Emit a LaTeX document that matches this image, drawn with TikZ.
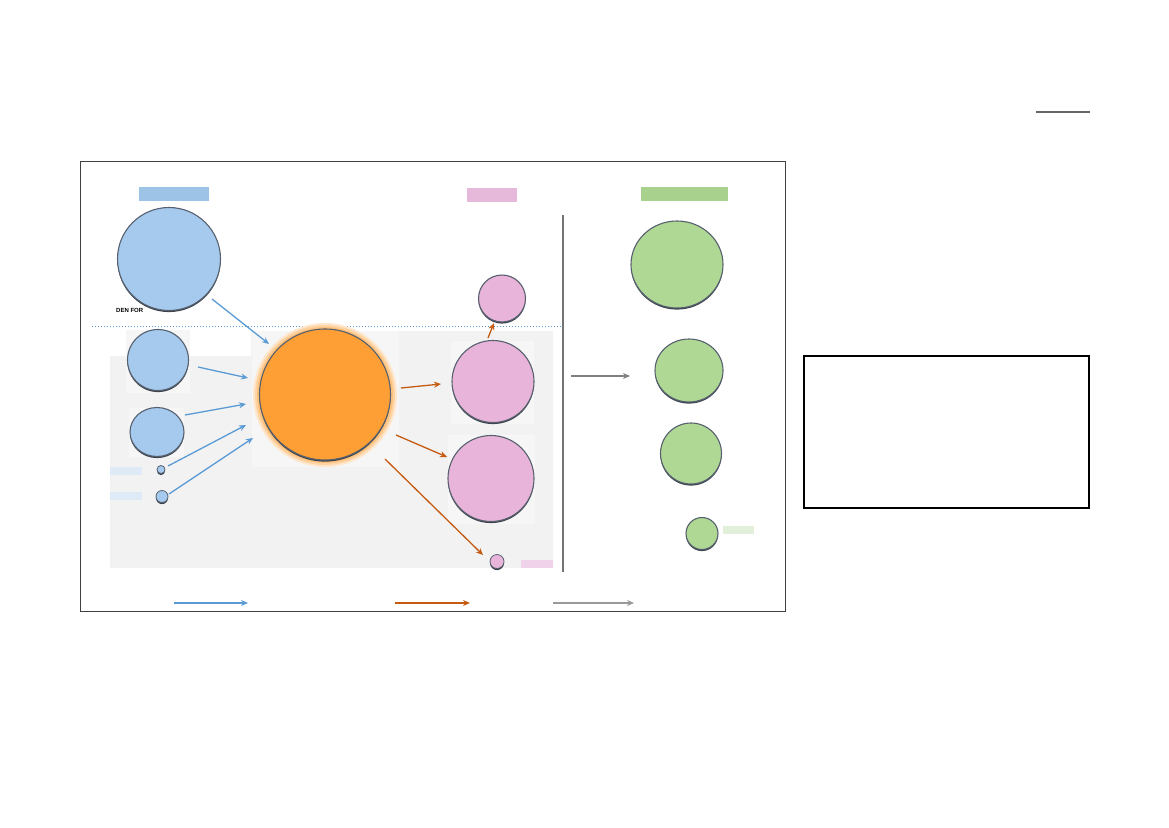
\documentclass[tikz,border=0pt]{standalone}
\usepackage{fontspec}
\setmainfont{Liberation Sans}
\usetikzlibrary{shapes.geometric,arrows.meta}
\definecolor{blueF}{HTML}{A5CAEE}
\definecolor{pinkF}{HTML}{E9B4D9}
\definecolor{greenF}{HTML}{B0D895}
\definecolor{orangeF}{HTML}{FE9F35}
\definecolor{rimC}{HTML}{56606E}
\definecolor{blueA}{HTML}{5B9BD5}
\definecolor{orangeA}{HTML}{C55A11}
\definecolor{grayA}{HTML}{808080}
\definecolor{panelC}{HTML}{F2F2F2}
\definecolor{tileC}{HTML}{F6F6F6}
\definecolor{hdrBlue}{HTML}{9DC3E6}
\definecolor{hdrPink}{HTML}{E6B8D9}
\definecolor{hdrGreen}{HTML}{A9D18E}
\definecolor{tagBlue}{HTML}{DEEBF7}
\definecolor{tagPink}{HTML}{F0D2EA}
\definecolor{tagGreen}{HTML}{E2EFDA}
\tikzset{
  bub/.style={circle, inner sep=0pt, fill=#1, draw=rimC, line width=1.1pt,
    preaction={fill=rimC!70!black, transform canvas={yshift=-1.6pt}}},
  ebub/.style={ellipse, inner sep=0pt, fill=#1, draw=rimC, line width=1.1pt,
    preaction={fill=rimC!70!black, transform canvas={yshift=-1.6pt}}},
  barrow/.style={draw=blueA, line width=1.3pt, -{Stealth[length=7pt,width=6pt]}},
  oarrow/.style={draw=orangeA, line width=1.3pt, -{Stealth[length=7pt,width=6pt]}},
  garrow/.style={draw=grayA, line width=1.4pt, -{Stealth[length=7pt,width=6pt]}},
  tag/.style={inner sep=0pt, fill=#1, draw=none},
}
\begin{document}
\begin{tikzpicture}[x=1pt,y=-1pt]
\useasboundingbox (0,0) rectangle (1169,827);
% panels
\fill[panelC] (110,356) -- (251,356) -- (251,331) -- (553,331) -- (553,568) -- (110,568) -- cycle;
\fill[tileC] (126,330) rectangle (190,393);
\fill[tileC] (129,408) rectangle (184,457);
\fill[tileC] (252,331) rectangle (399,467);
\fill[tileC] (451,341) rectangle (534,424);
\fill[tileC] (448,435) rectangle (535,524);
% frame
\draw[draw=black!75, line width=0.9pt] (80,161) rectangle (785,611);
\draw[draw=black!60, line width=2.8pt] (1036,112) -- (1090,112);
\draw[draw=black, line width=1.4pt] (804,356) rectangle (1089,508);
% separators
\draw[blueA, dotted, line width=1pt] (92,326) -- (565,326);
\draw[draw=black!55, line width=1.2pt] (563,215) -- (563,572);
% headers
\node[tag=hdrBlue, minimum width=70pt, minimum height=14pt] (hb) at (174,193.5) {};
\node[tag=hdrPink, minimum width=50pt, minimum height=14pt] (hp) at (491.5,195) {};
\node[tag=hdrGreen, minimum width=87pt, minimum height=14pt] (hg) at (684.5,193.5) {};
% tags
\node[tag=tagBlue, minimum width=32pt, minimum height=8pt] (tb1) at (126,470.5) {};
\node[tag=tagBlue, minimum width=32pt, minimum height=8pt] (tb2) at (126,495.5) {};
\node[tag=tagPink, minimum width=32pt, minimum height=8pt] (tp) at (537,564) {};
\node[tag=tagGreen, minimum width=31pt, minimum height=8pt] (tg) at (738.5,530) {};
% blue bubbles
\node[bub=blueF, minimum size=103pt] (b1) at (169,259) {};
\node[font=\fontsize{6}{7}\selectfont\bfseries, inner sep=0pt, anchor=west] (den) at (116,310) {DEN FOR};
\node[bub=blueF, minimum size=61pt] (b2) at (158,360) {};
\node[ebub=blueF, minimum width=54pt, minimum height=49pt] (b3) at (157,432) {};
\node[bub=blueF, minimum size=8pt, line width=0.8pt] (b4) at (161,469.5) {};
\node[bub=blueF, minimum size=12pt, line width=0.8pt] (b5) at (162,496.5) {};
% orange bubble with glow
\fill[orangeF!25] (325,395) circle (72);
\fill[orangeF!45] (325,395) circle (70);
\fill[orangeF!65] (325,395) circle (68);
\node[bub=orangeF, minimum size=131pt] (o) at (325,394.5) {};
% pink bubbles
\node[bub=pinkF, minimum size=47pt] (p1) at (502,298.5) {};
\node[bub=pinkF, minimum size=82pt] (p2) at (493,381.5) {};
\node[bub=pinkF, minimum size=86pt] (p3) at (491,478.5) {};
\node[bub=pinkF, minimum size=14pt, line width=0.8pt] (p4) at (497,561.5) {};
% green bubbles
\node[ebub=greenF, minimum width=92pt, minimum height=87pt] (g1) at (677,264.5) {};
\node[ebub=greenF, minimum width=68pt, minimum height=63pt] (g2) at (689,370.5) {};
\node[ebub=greenF, minimum width=61pt, minimum height=61pt] (g3) at (691,453.5) {};
\node[bub=greenF, minimum size=32pt] (g4) at (702,533.5) {};
% arrow endpoints
\coordinate (a1s) at (212,299); \coordinate (a1e) at (269,344);
\coordinate (a2s) at (198,367); \coordinate (a2e) at (248,378);
\coordinate (a3s) at (185,415); \coordinate (a3e) at (246,404);
\coordinate (a4s) at (168,466); \coordinate (a4e) at (246,425);
\coordinate (a5s) at (169,494); \coordinate (a5e) at (253,438);
\coordinate (c1s) at (401,388); \coordinate (c1e) at (441,384);
\coordinate (c2s) at (396,435); \coordinate (c2e) at (447,457);
\coordinate (c3s) at (385,459); \coordinate (c3e) at (483,555);
\coordinate (c4s) at (488,338); \coordinate (c4e) at (494,323);
\coordinate (gs) at (571,376); \coordinate (ge) at (630,376);
\coordinate (lbs) at (174,603); \coordinate (lbe) at (248,603);
\coordinate (los) at (395,603); \coordinate (loe) at (470,603);
\coordinate (lgs) at (553,603); \coordinate (lge) at (634,603);
% arrows
\draw[barrow] (a1s) -- (a1e);
\draw[barrow] (a2s) -- (a2e);
\draw[barrow] (a3s) -- (a3e);
\draw[barrow] (a4s) -- (a4e);
\draw[barrow] (a5s) -- (a5e);
\draw[oarrow] (c1s) -- (c1e);
\draw[oarrow] (c2s) -- (c2e);
\draw[oarrow] (c3s) -- (c3e);
\draw[oarrow] (c4s) -- (c4e);
\draw[garrow] (gs) -- (ge);
\draw[barrow, line width=1.1pt] (lbs) -- (lbe);
\draw[oarrow, line width=1.1pt] (los) -- (loe);
\draw[garrow, line width=2pt, draw=black!40] (lgs) -- (lge);
\end{tikzpicture}
\end{document}
